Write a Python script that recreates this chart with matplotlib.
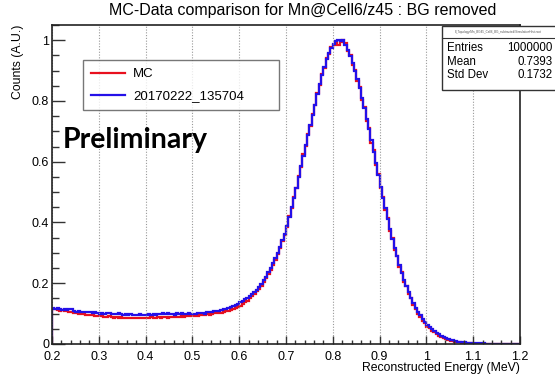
import numpy as np
import matplotlib
matplotlib.use('Agg')
import matplotlib.pyplot as plt
from matplotlib.patches import Rectangle
from matplotlib.ticker import MultipleLocator, FuncFormatter

# Histograma: 200 bins de 0.005 MeV entre 0.2 y 1.2
e_min, e_max, n_bins = 0.2, 1.2, 200
bordes = np.linspace(e_min, e_max, n_bins + 1)

# MC (rojo)
mc = [
    0.116, 0.114, 0.112, 0.110, 0.111, 0.108, 0.109, 0.106, 0.104, 0.103,
    0.101, 0.100, 0.098, 0.099, 0.097, 0.096, 0.094, 0.095, 0.093, 0.092,
    0.091, 0.093, 0.090, 0.089, 0.091, 0.088, 0.087, 0.089, 0.086, 0.088,
    0.085, 0.087, 0.084, 0.086, 0.085, 0.087, 0.086, 0.085, 0.087, 0.086,
    0.087, 0.086, 0.088, 0.087, 0.086, 0.088, 0.087, 0.089, 0.088, 0.087,
    0.088, 0.089, 0.088, 0.090, 0.089, 0.091, 0.090, 0.092, 0.091, 0.092,
    0.092, 0.091, 0.093, 0.095, 0.094, 0.096, 0.098, 0.097, 0.099, 0.101,
    0.102, 0.104, 0.103, 0.106, 0.108, 0.110, 0.112, 0.115, 0.118, 0.122,
    0.126, 0.131, 0.137, 0.143, 0.150, 0.157, 0.165, 0.173, 0.182, 0.192,
    0.203, 0.216, 0.229, 0.244, 0.260, 0.277, 0.296, 0.316, 0.338, 0.360,
    0.386, 0.420, 0.448, 0.484, 0.512, 0.552, 0.583, 0.625, 0.652, 0.690,
    0.718, 0.757, 0.785, 0.825, 0.852, 0.888, 0.908, 0.940, 0.955, 0.978,
    0.985, 0.990, 0.985, 0.995, 1.000, 0.990, 0.965, 0.950, 0.918, 0.902,
    0.865, 0.845, 0.803, 0.780, 0.735, 0.712, 0.662, 0.638, 0.588, 0.560,
    0.512, 0.485, 0.440, 0.415, 0.372, 0.350, 0.310, 0.290, 0.254, 0.236,
    0.204, 0.190, 0.164, 0.150, 0.128, 0.116, 0.100, 0.090, 0.077, 0.068,
    0.057, 0.051, 0.044, 0.038, 0.032, 0.027, 0.022, 0.019, 0.015, 0.013,
    0.010, 0.009, 0.007, 0.006, 0.005, 0.004, 0.003, 0.003, 0.002, 0.002,
    0.001, 0.001, 0.001, 0.001, 0.001, 0.001, 0.000, 0.001, 0.000, 0.000,
    0.000, 0.000, 0.000, 0.000, 0.000, 0.000, 0.000, 0.000, 0.000, 0.000,
]

# Datos 20170222_135704 (azul)
datos = [
    0.118, 0.116, 0.117, 0.114, 0.113, 0.115, 0.112, 0.116, 0.114, 0.108,
    0.106, 0.107, 0.105, 0.106, 0.104, 0.106, 0.105, 0.103, 0.104, 0.101,
    0.100, 0.103, 0.099, 0.101, 0.102, 0.098, 0.100, 0.099, 0.101, 0.098,
    0.097, 0.099, 0.096, 0.098, 0.097, 0.095, 0.097, 0.098, 0.096, 0.097,
    0.097, 0.098, 0.096, 0.099, 0.097, 0.100, 0.098, 0.101, 0.099, 0.102,
    0.098, 0.100, 0.097, 0.101, 0.099, 0.102, 0.100, 0.098, 0.101, 0.099,
    0.100, 0.098, 0.102, 0.101, 0.103, 0.100, 0.104, 0.106, 0.105, 0.108,
    0.107, 0.110, 0.112, 0.114, 0.116, 0.118, 0.121, 0.125, 0.128, 0.133,
    0.139, 0.143, 0.147, 0.152, 0.158, 0.164, 0.171, 0.179, 0.188, 0.198,
    0.210, 0.222, 0.236, 0.250, 0.266, 0.283, 0.301, 0.320, 0.341, 0.362,
    0.388, 0.418, 0.450, 0.482, 0.515, 0.550, 0.585, 0.620, 0.655, 0.688,
    0.720, 0.754, 0.788, 0.822, 0.855, 0.885, 0.912, 0.937, 0.958, 0.975,
    0.988, 0.998, 1.000, 0.996, 1.000, 0.985, 0.968, 0.948, 0.925, 0.900,
    0.872, 0.842, 0.810, 0.776, 0.742, 0.707, 0.670, 0.633, 0.595, 0.556,
    0.518, 0.482, 0.446, 0.412, 0.378, 0.346, 0.316, 0.288, 0.260, 0.234,
    0.210, 0.190, 0.170, 0.152, 0.135, 0.120, 0.106, 0.094, 0.082, 0.072,
    0.063, 0.056, 0.049, 0.043, 0.037, 0.032, 0.027, 0.023, 0.019, 0.016,
    0.014, 0.012, 0.010, 0.008, 0.007, 0.006, 0.005, 0.004, 0.004, 0.003,
    0.003, 0.002, 0.002, 0.002, 0.002, 0.001, 0.001, 0.001, 0.001, 0.001,
    0.001, 0.001, 0.001, 0.001, 0.001, 0.001, 0.001, 0.001, 0.001, 0.001,
]

etiquetas = ['MC', '20170222_135704']
titulo = 'MC-Data comparison for Mn@Cell6/z45 : BG removed'
nombre_archivo = 'E_Topology/Mn_BG45_Cell6_BG_subtracted/SimulationHist.root'
stats_nombres = ['Entries', 'Mean', 'Std Dev']
stats_valores = ['1000000', '0.7393', '0.1732']

plt.rcParams['font.family'] = ['Liberation Sans', 'DejaVu Sans']

fig = plt.figure(figsize=(5.55, 3.82), dpi=100)
ax = fig.add_axes([0.0937, 0.0995, 0.8432, 0.8351])

rojo = '#e8101e'
azul = '#2410e8'
ax.stairs(mc, bordes, color=rojo, lw=1.6, label=etiquetas[0])
ax.stairs(datos, bordes, color=azul, lw=1.6, label=etiquetas[1])

ax.set_xlim(e_min, e_max)
ax.set_ylim(0, 1.05)

ax.xaxis.set_major_locator(MultipleLocator(0.1))
ax.xaxis.set_minor_locator(MultipleLocator(0.02))
ax.yaxis.set_major_locator(MultipleLocator(0.2))
ax.yaxis.set_minor_locator(MultipleLocator(0.05))
fmt = FuncFormatter(lambda v, p: f'{round(v, 3):g}')
ax.xaxis.set_major_formatter(fmt)
ax.yaxis.set_major_formatter(fmt)

ax.tick_params(axis='both', which='both', direction='in', labelsize=9,
               width=1.0, color='#333333')
ax.tick_params(axis='x', which='major', length=6, pad=5)
ax.tick_params(axis='x', which='minor', length=3)
ax.tick_params(axis='y', which='major', length=9, pad=2)
ax.tick_params(axis='y', which='minor', length=5)

ax.grid(axis='x', which='major', color='#999999', lw=0.8, linestyle=(0, (1, 1.5)))
for s in ax.spines.values():
    s.set_linewidth(1.2)
    s.set_color('#222222')

ax.set_xlabel('Reconstructed Energy (MeV)', loc='right', fontsize=8.8, labelpad=-1)
ax.set_ylabel('Counts (A.U.)', loc='top', fontsize=8.8, labelpad=6)

ley = ax.legend(loc='center', bbox_to_anchor=(0.066, 0.725, 0.419, 0.172),
                mode='expand', fontsize=9.5, frameon=True, fancybox=False,
                edgecolor='#555555', handlelength=2.6, handletextpad=0.6,
                labelspacing=0.75, borderpad=0.6, borderaxespad=0)
ley.get_frame().set_linewidth(1.0)
for linea in ley.get_lines():
    linea.set_linewidth(1.6)

ax.text(0.022, 0.64, 'Preliminary', transform=ax.transAxes, fontsize=20.5,
        fontweight='bold', family=['Lato', 'DejaVu Sans'], va='center', ha='left')

fig.text(0.545, 0.973, titulo, ha='center', va='center', fontsize=11.5)

# Caja de estadisticas (estilo ROOT)
caja = Rectangle((0.797, 0.764), 0.25, 0.168, transform=fig.transFigure,
                 facecolor='white', edgecolor='#333333', lw=1.0, zorder=5)
fig.add_artist(caja)
fig.add_artist(plt.Line2D([0.797, 1.0], [0.9005, 0.9005], transform=fig.transFigure,
                          color='#333333', lw=0.8, zorder=6))
fig.text(0.898, 0.917, nombre_archivo, ha='center', va='center', fontsize=2.2,
         color='#555555', zorder=7)
filas_y = [0.874, 0.839, 0.804]
for nombre, valor, y in zip(stats_nombres, stats_valores, filas_y):
    fig.text(0.806, y, nombre, ha='left', va='center', fontsize=8.3, zorder=7)
    fig.text(0.995, y, valor, ha='right', va='center', fontsize=8.3, zorder=7)

fig.savefig('out.png', dpi=100)
